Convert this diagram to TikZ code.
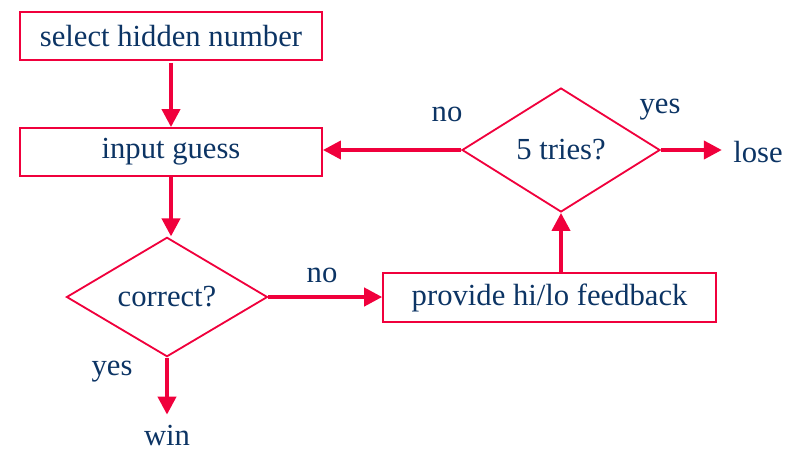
\documentclass[tikz,border=0pt]{standalone}
\usepackage{fontspec}
\setmainfont{Liberation Serif}
\usetikzlibrary{shapes.geometric, arrows.meta, positioning}

\definecolor{flowred}{RGB}{240,0,60}
\definecolor{flowtext}{RGB}{12,52,100}

\begin{document}
\begin{tikzpicture}[
    every node/.style={text=flowtext, font=\fontsize{21.8}{26}\selectfont},
    process/.style={rectangle, draw=flowred, line width=1.3pt, minimum height=1.2cm, inner sep=0pt},
    decision/.style={diamond, draw=flowred, line width=1.3pt, inner sep=0pt},
    terminal/.style={inner sep=0.28cm},
    flow/.style={-{Triangle[length=0.45cm, width=0.45cm]}, draw=flowred, line width=2.8pt},
    label/.style={inner sep=0pt}
]
\useasboundingbox (0,0) rectangle (19.95,-11.25);

% Boxes on the left
\node[process, minimum width=7.55cm] (select) at (4.275,-0.9) {select hidden number};
\node[process, minimum width=7.55cm] (input) at (4.275,-3.8) {input guess};

% Decisions
\node[decision, minimum width=5.025cm, minimum height=2.675cm] (correct) at (4.175,-7.425) {correct?};
\node[decision, minimum width=4.95cm, minimum height=3.1cm] (tries) at (14.025,-3.75) {5 tries?};

% Feedback
\node[process, minimum width=8.325cm, minimum height=1.225cm] (feedback) at (13.74,-7.44) {provide hi/lo feedback};

% Outcomes
\node[terminal] (lose) at (18.95,-3.8) {lose};
\node[terminal, inner sep=0.25cm] (win) at (4.175,-10.88) {win};

% Connectors
\draw[flow] (select.south) ++(0,-0.05) -- (input.north);
\draw[flow] (input) -- (input |- correct.north);
\draw[flow] (correct.east) -- (correct.east -| feedback.west);
\draw[flow] (tries |- feedback.north) -- (tries.south);
\draw[flow] (tries.west) -- (tries.west -| input.east);
\draw[flow] (tries.east) -- (lose.west |- tries.east);
\draw[flow] (correct.south) -- (correct.south |- win.north);

% Branch labels
\node[label] (no1) at (8.05,-6.875) {no};
\node[label] (no2) at (11.175,-2.85) {no};
\node[label] (yes1) at (16.5,-2.75) {yes};
\node[label] (yes2) at (2.8,-9.3) {yes};

\end{tikzpicture}
\end{document}
